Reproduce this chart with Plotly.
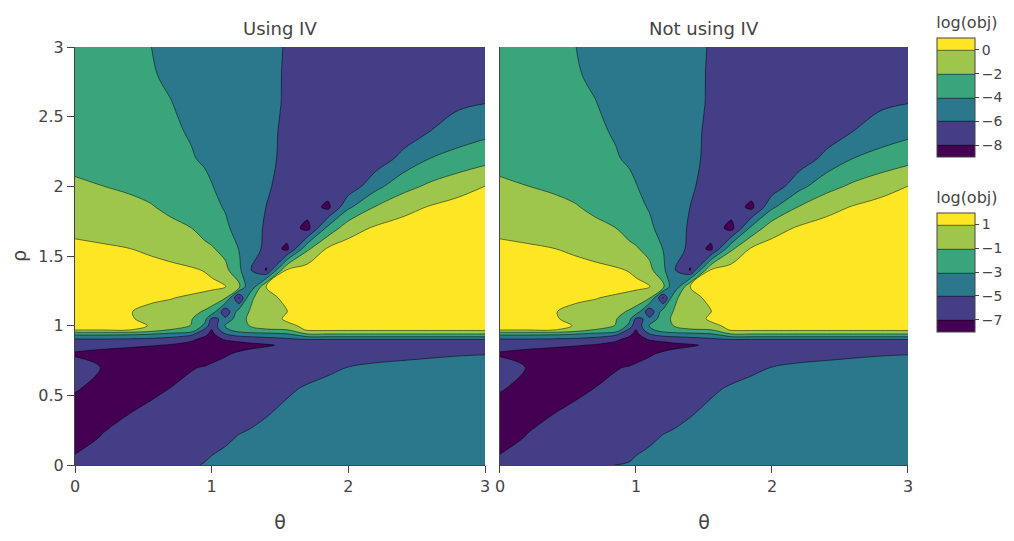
import plotly.graph_objects as go
from plotly.subplots import make_subplots

# grid (theta across, rho up)
theta = [0, 0.2, 0.4, 0.55, 0.7, 0.85, 0.95, 1.0, 1.1, 1.2, 1.28, 1.4, 1.55,
         1.7, 1.85, 2.0, 2.2, 2.4, 2.6, 2.8, 3.0]
rho = [0, 0.2, 0.4, 0.55, 0.7, 0.8, 0.86, 0.9, 0.94, 0.97, 1.0, 1.05, 1.1,
       1.2, 1.28, 1.4, 1.55, 1.7, 1.85, 2.0, 2.2, 2.4, 2.6, 2.8, 3.0]

# log(obj) using IV, one row per rho value
log_obj_iv = [
    [-7.5, -7.2, -6.9, -6.65, -6.4, -6.1, -5.95, -5.85, -5.7, -5.55, -5.45, -5.3, -5.15, -5.0, -4.9, -4.8, -4.7, -4.6, -4.55, -4.5, -4.45],
    [-8.8, -7.9, -7.45, -7.1, -6.8, -6.55, -6.4, -6.3, -6.15, -5.95, -5.85, -5.7, -5.5, -5.3, -5.15, -5.0, -4.9, -4.8, -4.7, -4.65, -4.6],
    [-8.6, -8.7, -8.1, -7.8, -7.45, -7.1, -6.95, -6.85, -6.65, -6.45, -6.35, -6.12, -5.85, -5.6, -5.4, -5.25, -5.1, -5.0, -4.95, -4.9, -4.85],
    [-7.85, -8.5, -8.5, -8.3, -7.98, -7.6, -7.35, -7.2, -7.0, -6.8, -6.65, -6.4, -6.15, -5.9, -5.7, -5.5, -5.35, -5.25, -5.2, -5.15, -5.1],
    [-7.3, -8.05, -8.8, -8.8, -8.5, -8.1, -7.9, -7.7, -7.4, -7.2, -7.05, -6.85, -6.6, -6.4, -6.2, -5.98, -5.8, -5.7, -5.6, -5.55, -5.5],
    [-8.2, -8.6, -9.0, -9.2, -9.3, -9.2, -8.9, -8.7, -8.2, -7.8, -7.5, -7.2, -6.9, -6.7, -6.6, -6.5, -6.4, -6.3, -6.2, -6.1, -6.05],
    [-7.2, -7.4, -7.6, -7.85, -8.15, -8.6, -9.0, -9.0, -8.8, -8.6, -8.45, -8.2, -7.7, -7.2, -7.0, -6.9, -6.85, -6.8, -6.8, -6.8, -6.8],
    [-6.3, -6.3, -6.4, -6.6, -7.0, -7.7, -8.6, -8.6, -7.9, -7.6, -7.3, -7.0, -6.5, -6.1, -6.1, -6.1, -6.1, -6.1, -6.1, -6.1, -6.1],
    [-3.5, -3.5, -3.6, -3.9, -4.5, -5.5, -7.5, -8.5, -6.05, -5.0, -4.8, -4.5, -4.2, -2.05, -2.05, -2.05, -2.05, -2.05, -2.05, -2.05, -2.05],
    [0.1, 0.1, 0.05, -0.8, -2.1, -2.3, -6.5, -8.05, -4.5, -3.0, -2.4, -2.2, -2.05, 0.3, 0.4, 0.4, 0.4, 0.4, 0.4, 0.4, 0.4],
    [1.0, 0.9, 0.6, -0.1, -1.2, -2.05, -4.5, -7.6, -3.8, -2.6, -1.95, -1.2, -0.4, 0.4, 0.6, 0.8, 0.8, 0.8, 0.8, 0.8, 0.8],
    [1.2, 1.0, 0.2, -0.6, -1.1, -1.85, -3.3, -6.4, -5.6, -2.8, -1.6, -1.0, 0.3, 0.9, 1.2, 1.4, 1.5, 1.6, 1.6, 1.6, 1.6],
    [1.4, 1.2, 0.1, -0.6, -1.0, -1.5, -2.2, -2.7, -7.5, -3.0, -1.9, -1.0, -0.05, 0.8, 1.5, 2.0, 2.3, 2.5, 2.6, 2.7, 2.7],
    [1.6, 1.4, 0.8, 0.45, 0.12, -0.4, -0.75, -1.0, -1.8, -8.15, -2.4, -0.8, 0.6, 1.5, 2.0, 2.4, 2.6, 2.8, 2.9, 3.0, 3.0],
    [1.8, 1.8, 1.7, 1.5, 1.2, 0.9, 0.6, 0.45, 0.05, -1.5, -6.0, 0.05, 0.9, 1.7, 2.2, 2.5, 2.8, 3.0, 3.1, 3.2, 3.2],
    [1.2, 1.1, 0.95, 0.75, 0.5, 0.2, -0.1, -0.4, -1.5, -3.6, -5.8, -8.2, 0.1, 0.9, 1.4, 1.8, 2.2, 2.5, 2.7, 2.8, 2.9],
    [0.35, 0.2, 0.03, -0.35, -0.8, -1.25, -1.6, -1.8, -2.6, -4.05, -5.0, -6.5, -8.5, -2.33, 0.3, 0.8, 1.3, 1.8, 2.1, 2.3, 2.5],
    [-0.37, -0.55, -0.8, -1.1, -1.55, -1.98, -2.6, -2.95, -3.7, -4.6, -5.35, -6.2, -6.7, -8.7, -3.43, -0.8, 0.25, 0.8, 1.3, 1.7, 2.0],
    [-1.03, -1.2, -1.5, -1.85, -2.4, -2.95, -3.4, -3.6, -4.12, -4.75, -5.25, -6.02, -6.6, -6.9, -8.5, -4.33, -1.85, -0.67, 0.15, 0.7, 1.2],
    [-1.7, -1.98, -2.3, -2.6, -2.95, -3.35, -3.75, -3.95, -4.43, -4.9, -5.29, -5.86, -6.4, -6.7, -6.8, -7.3, -4.6, -2.67, -1.63, -0.8, 0.02],
    [-2.55, -2.85, -3.2, -3.45, -3.7, -3.92, -4.14, -4.32, -4.68, -5.04, -5.32, -5.75, -6.25, -6.6, -6.8, -6.85, -7.2, -5.43, -3.98, -3.3, -2.67],
    [-2.8, -3.1, -3.45, -3.65, -3.85, -4.09, -4.39, -4.54, -4.84, -5.14, -5.38, -5.74, -6.2, -6.55, -6.8, -6.95, -6.9, -7.2, -6.02, -5.12, -4.6],
    [-3.0, -3.3, -3.6, -3.8, -3.97, -4.33, -4.59, -4.72, -4.97, -5.23, -5.44, -5.74, -6.1, -6.45, -6.7, -6.9, -7.0, -6.9, -6.6, -6.35, -6.05],
    [-3.15, -3.4, -3.7, -3.9, -4.18, -4.52, -4.74, -4.85, -5.08, -5.30, -5.48, -5.75, -6.09, -6.4, -6.65, -6.85, -7.0, -7.05, -6.95, -6.6, -6.45],
    [-3.3, -3.55, -3.8, -3.98, -4.29, -4.6, -4.81, -4.92, -5.13, -5.33, -5.5, -5.75, -6.06, -6.35, -6.6, -6.8, -7.0, -7.1, -7.05, -6.95, -6.8],
]

# without IV the surface reads one level unit higher (colorbar levels shift by 1)
log_obj_no_iv = [[v + 1.0 for v in row] for row in log_obj_iv]
log_obj_no_iv[0][5] = -4.98   # bottom boundary starts a little further left

levels_iv = dict(start=-8, end=0, size=2)
levels_no_iv = dict(start=-7, end=1, size=2)

# band colours as seen in the picture (lowest band -> highest band)
band_colors = ["#440154", "#433e85", "#2b788d", "#3aa57a", "#9fc64c", "#fde725"]
colorscale = [[i / 5, c] for i, c in enumerate(band_colors)]

FONT = "Verdana, DejaVu Sans, sans-serif"
GREY = "#444"

fig = make_subplots(rows=1, cols=2, subplot_titles=("Using IV", "Not using IV"),
                    shared_yaxes=True)

cb_common = dict(
    thickness=38, lenmode="fraction", len=0.39, xanchor="left", x=1.0225,
    yanchor="top", outlinewidth=1, outlinecolor=GREY, ticks="outside",
    ticklen=4, tickcolor=GREY, tickfont=dict(size=14, family=FONT, color=GREY),
)
cb_title_font = dict(size=16, family=FONT, color=GREY)

fig.add_trace(go.Contour(
    x=theta, y=rho, z=log_obj_iv, colorscale=colorscale,
    contours=dict(coloring="fill", **levels_iv),
    colorbar=dict(title=dict(text="log(obj)", side="top", font=cb_title_font),
                  y=1.103, **cb_common),
), row=1, col=1)

fig.add_trace(go.Contour(
    x=theta, y=rho, z=log_obj_no_iv, colorscale=colorscale,
    contours=dict(coloring="fill", **levels_no_iv),
    colorbar=dict(title=dict(text="log(obj)", side="top", font=cb_title_font),
                  y=0.685, **cb_common),
), row=1, col=2)

axis_style = dict(range=[0, 3], showline=True, linecolor=GREY, linewidth=1,
                  ticks="outside", ticklen=7, tickcolor=GREY, showgrid=False,
                  zeroline=False, tickfont=dict(size=16, family=FONT, color=GREY))
title_font = dict(size=19, family=FONT, color=GREY)

fig.update_xaxes(**axis_style, tickvals=[0, 1, 2, 3])
fig.update_xaxes(domain=[0, 0.4922], title=dict(text="θ", font=title_font, standoff=31), row=1, col=1)
fig.update_xaxes(domain=[0.5102, 1], title=dict(text="θ", font=title_font, standoff=31), row=1, col=2)
fig.update_yaxes(**axis_style)
fig.update_yaxes(tickvals=[0, 0.5, 1, 1.5, 2, 2.5, 3],
                 title=dict(text="ρ", font=title_font, standoff=8), row=1, col=1)
fig.update_yaxes(ticks="", showticklabels=False, row=1, col=2)

for ann in fig.layout.annotations:
    ann.font = dict(size=18, family=FONT, color=GREY)
    ann.yshift = 6
fig.layout.annotations[0].x = 0.4922 / 2
fig.layout.annotations[1].x = (0.5102 + 1) / 2

# the page adds an 8 px body margin, so the figure is sized to fit the window
fig.update_layout(
    width=1006, height=525,
    margin=dict(l=67, r=106, t=39, b=68, autoexpand=False),
    paper_bgcolor="white", plot_bgcolor="white",
    font=dict(family=FONT, color=GREY),
)

fig.write_html("out.html")
